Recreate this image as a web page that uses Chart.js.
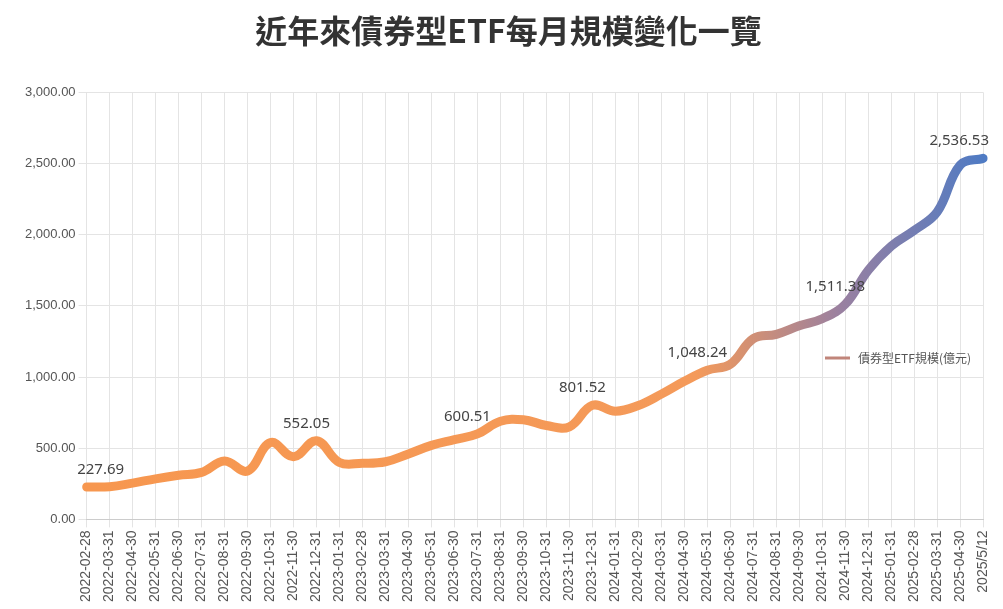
<!DOCTYPE html>
<html><head><meta charset="utf-8">
<script src="https://cdn.jsdelivr.net/npm/chart.js@4"></script>
<style>body{margin:0;background:#fff}#w{width:1003px;height:609px;position:relative}</style>
</head><body><div id="w"><canvas id="c"></canvas></div>
<script>
const categories=["2022-02-28","2022-03-31","2022-04-30","2022-05-31","2022-06-30","2022-07-31","2022-08-31","2022-09-30","2022-10-31","2022-11-30","2022-12-31","2023-01-31","2023-02-28","2023-03-31","2023-04-30","2023-05-31","2023-06-30","2023-07-31","2023-08-31","2023-09-30","2023-10-31","2023-11-30","2023-12-31","2024-01-31","2024-02-29","2024-03-31","2024-04-30","2024-05-31","2024-06-30","2024-07-31","2024-08-31","2024-09-30","2024-10-31","2024-11-30","2024-12-31","2025-01-31","2025-02-28","2025-03-31","2025-04-30","2025/5/12"];
const sizeValues=[227.69,230,255,285,310,330,410,340,540,440,552.05,400,395,405,460,520,560,600.51,690,700,660,650,801.52,760,800,880,970,1048.24,1090,1270,1300,1360,1410,1511.38,1750,1920,2030,2160,2490,2536.53];
const labeledIdx=[0,10,17,22,27,33,39];
const seriesName="債券型ETF規模(億元)";
const labelPlugin={id:"lbl",afterDatasetsDraw(ch){const c=ch.ctx,m=ch.getDatasetMeta(0);c.save();c.font="15px 'Noto Sans','Noto Sans CJK TC'";c.fillStyle="#444";c.textAlign="center";c.textBaseline="bottom";
labeledIdx.forEach(i=>{const p=m.data[i];c.fillText(sizeValues[i].toLocaleString("en-US",{minimumFractionDigits:2}),p.x+(i===0?14:(i===39?-24:-10)),p.y-10);});
const lx=825,ly=358;c.strokeStyle="#c0857a";c.lineWidth=3;c.beginPath();c.moveTo(lx,ly);c.lineTo(lx+25,ly);c.stroke();c.font="12px 'Noto Sans CJK TC'";c.textAlign="left";c.textBaseline="middle";c.fillStyle="#555";c.fillText(seriesName,lx+33,ly);c.restore();}};
new Chart(document.getElementById("c"),{type:"line",data:{labels:categories,datasets:[{data:sizeValues,borderWidth:9,tension:0.4,pointRadius:0,borderCapStyle:"round",
borderColor(ctx){const a=ctx.chart.chartArea;if(!a)return"#F7974F";const g=ctx.chart.ctx.createLinearGradient(a.left,0,a.right,0);g.addColorStop(0,"#F7974F");g.addColorStop(0.68,"#F49A5A");g.addColorStop(0.84,"#9A80A0");g.addColorStop(1,"#4F7BC4");return g;}}]},
options:{responsive:true,maintainAspectRatio:false,animation:false,layout:{padding:{left:22,right:8,top:0,bottom:4}},
plugins:{legend:{display:false},tooltip:{enabled:false},title:{display:true,text:"近年來債券型ETF每月規模變化一覽",color:"#333",font:{size:32,weight:"bold",family:"'Noto Sans CJK TC'"},padding:{top:12,bottom:42}}},
scales:{y:{min:0,max:3000,ticks:{stepSize:500,color:"#555",font:{size:13},callback:v=>v.toLocaleString("en-US",{minimumFractionDigits:2})},grid:{color:"#e4e4e4"},border:{display:false}},
x:{offset:false,ticks:{autoSkip:false,maxRotation:90,minRotation:90,color:"#555",font:{size:14}},grid:{color:"#e4e4e4"},border:{color:"#ccc"}}}},plugins:[labelPlugin]});
</script></body></html>
